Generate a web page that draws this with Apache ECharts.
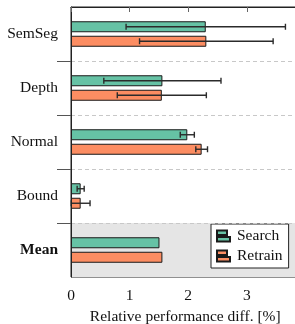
<!DOCTYPE html>
<html>
<head>
<meta charset="utf-8">
<script src="https://cdn.jsdelivr.net/npm/echarts@6/dist/echarts.min.js"></script>
<style>html,body{margin:0;padding:0;background:#fff}#c{width:295px;height:324px}</style>
</head>
<body>
<div id="c"></div>
<script>
var categories = ['SemSeg', 'Depth', 'Normal', 'Bound', 'Mean'];
var searchMean = [2.30, 1.56, 1.985, 0.165, 1.51];
var searchStd = [1.36, 1.00, 0.12, 0.06, null];
var retrainMean = [2.31, 1.55, 2.23, 0.165, 1.56];
var retrainStd = [1.14, 0.76, 0.10, 0.16, null];
var xTicks = [0, 1, 2, 3];
var boundaryTicks = [1, 2, 3, 4];
var highlighted = ['Mean'];

var FONT = 'Liberation Serif, Times New Roman, DejaVu Serif, serif';
var BAR_W = 11, BAR_GAP = 3.5;
var GREEN = '#66c2a5', ORANGE = '#fc8d62', EDGE = '#1a1a1a';

function errSeries(name, means, stds, offset) {
  var data = [];
  categories.forEach(function (c, i) {
    if (stds[i] != null) data.push([means[i], i, stds[i]]);
  });
  return {
    type: 'custom', name: name + '_err', yAxisIndex: 0, z: 5, silent: true,
    encode: { x: 0, y: 1 },
    renderItem: function (params, api) {
      var m = api.value(0), s = api.value(2), ci = api.value(1);
      var lo = api.coord([Math.max(m - s, 0), ci]);
      var hi = api.coord([m + s, ci]);
      var y = lo[1] + offset;
      var cap = 3;
      var st = { stroke: '#2b2b2b', lineWidth: 1.4 };
      var children = [{ type: 'line', shape: { x1: lo[0], y1: y, x2: hi[0], y2: y }, style: st }];
      if (m - s > 0) children.push({ type: 'line', shape: { x1: lo[0], y1: y - cap, x2: lo[0], y2: y + cap }, style: st });
      children.push({ type: 'line', shape: { x1: hi[0], y1: y - cap, x2: hi[0], y2: y + cap }, style: st });
      return { type: 'group', children: children };
    },
    data: data
  };
}

var legendIcon = 'path://M0,0 H10 V4.5 H0 Z M0,6.5 H13 V11 H0 Z';

var chart = echarts.init(document.getElementById('c'), null, { renderer: 'canvas' });
chart.setOption({
  animation: false,
  textStyle: { fontFamily: FONT },
  grid: { left: 71, top: 7, bottom: 47, right: -4.5, show: true, borderColor: '#222', borderWidth: 1, backgroundColor: 'transparent', containLabel: false, outerBoundsMode: 'none' },
  xAxis: {
    type: 'value', min: 0, max: 3.9, z: 10,
    axisLine: { show: true, lineStyle: { color: '#222', width: 1 } },
    axisTick: { show: true, customValues: xTicks, length: 5, lineStyle: { color: '#666' } },
    axisLabel: { customValues: xTicks, fontSize: 15.5, color: '#111', margin: 11, fontFamily: FONT },
    splitLine: { show: false },
    name: 'Relative performance diff. [%]', nameLocation: 'middle', nameGap: 31,
    nameTextStyle: { fontSize: 15.5, color: '#111', fontFamily: FONT }
  },
  yAxis: [{
    type: 'category', data: categories, inverse: true, position: 'left', z: 10,
    axisLine: { show: true, lineStyle: { color: '#222', width: 1 } },
    axisTick: { show: false },
    splitLine: { show: false },
    axisLabel: {
      fontSize: 15.5, color: '#111', margin: 13, fontFamily: FONT,
      formatter: function (v) { return highlighted.indexOf(v) >= 0 ? '{b|' + v + '}' : v; },
      rich: { b: { fontWeight: 'bold', fontSize: 15.5, fontFamily: FONT, color: '#111' } }
    }
  }, {
    type: 'value', min: 0, max: categories.length, interval: 1, inverse: true, position: 'left', z: 10,
    axisLine: { show: false },
    axisLabel: { show: false },
    axisTick: { show: true, customValues: boundaryTicks, length: 14, lineStyle: { color: '#555', width: 1 } },
    splitLine: { show: true, lineStyle: { color: '#c8c8c8', type: [4, 3], width: 1 } }
  }],
  legend: {
    left: 211, top: 224, orient: 'vertical',
    backgroundColor: '#fff', borderColor: '#222', borderWidth: 1, borderRadius: 0,
    padding: [4, 6, 4, 5], itemGap: 4, itemWidth: 13, itemHeight: 11,
    textStyle: { fontSize: 15.5, color: '#111', fontFamily: FONT, padding: [0, 0, 0, 2] },
    data: [{ name: 'Search', icon: legendIcon }, { name: 'Retrain', icon: legendIcon }]
  },
  series: [{
    type: 'custom', name: 'bg', yAxisIndex: 0, z: 0, silent: true,
    encode: { x: 0, y: 1 },
    renderItem: function (params, api) {
      var c = api.coord([0, api.value(1)]);
      var h = api.size([0, 1])[1];
      var cs = params.coordSys;
      return { type: 'rect', shape: { x: cs.x, y: c[1] - h / 2, width: cs.width, height: h }, style: { fill: '#e5e5e5' } };
    },
    data: highlighted.map(function (h) { return [0, categories.indexOf(h)]; })
  }, {
    type: 'bar', name: 'Search', data: searchMean, barWidth: BAR_W, barGap: (BAR_GAP / BAR_W * 100) + '%', z: 2,
    itemStyle: { color: GREEN, borderColor: EDGE, borderWidth: 1 }
  }, {
    type: 'bar', name: 'Retrain', data: retrainMean, barWidth: BAR_W, z: 2,
    itemStyle: { color: ORANGE, borderColor: EDGE, borderWidth: 1 }
  },
  errSeries('Search', searchMean, searchStd, -(BAR_W + BAR_GAP) / 2),
  errSeries('Retrain', retrainMean, retrainStd, (BAR_W + BAR_GAP) / 2)
  ]
});
</script>
</body>
</html>
